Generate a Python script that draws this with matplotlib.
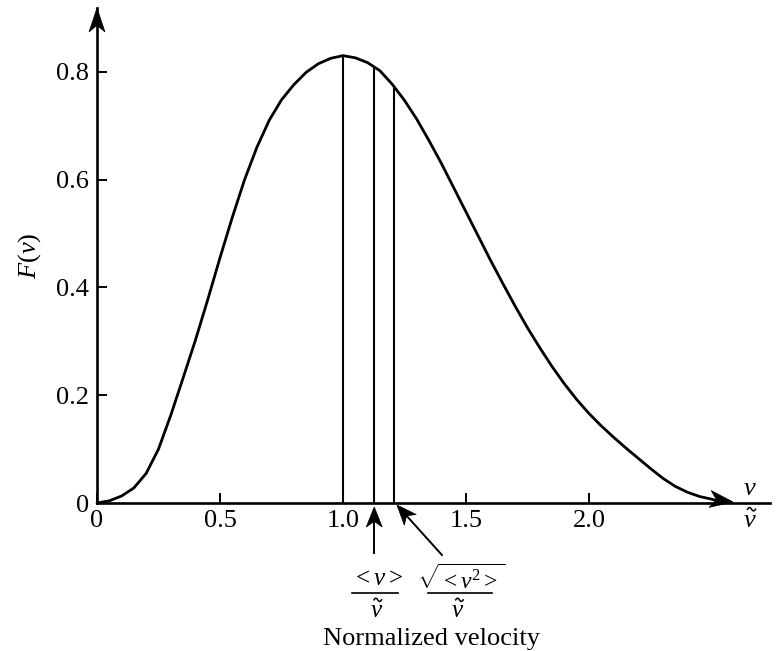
import numpy as np
import matplotlib
matplotlib.use("Agg")
import matplotlib.pyplot as plt
from matplotlib.patches import Polygon
from matplotlib.lines import Line2D
from matplotlib.transforms import IdentityTransform

# ---- data ----
v_norm = [0.0, 0.05, 0.10, 0.15, 0.20, 0.25, 0.30, 0.35, 0.40, 0.45,
          0.50, 0.55, 0.60, 0.65, 0.70, 0.75, 0.80, 0.85, 0.90, 0.95,
          1.00, 1.05, 1.10, 1.15, 1.20, 1.25, 1.30, 1.35, 1.40, 1.45,
          1.50, 1.55, 1.60, 1.65, 1.70, 1.75, 1.80, 1.85, 1.90, 1.95,
          2.00, 2.05, 2.10, 2.15, 2.20, 2.25, 2.30, 2.35, 2.40, 2.45,
          2.50]
F_v = [0.000, 0.004, 0.013, 0.028, 0.055, 0.100, 0.163, 0.232, 0.302, 0.377,
       0.455, 0.530, 0.600, 0.660, 0.710, 0.748, 0.776, 0.799, 0.815, 0.825,
       0.830, 0.826, 0.817, 0.802, 0.777, 0.747, 0.712, 0.672, 0.630, 0.585,
       0.540, 0.495, 0.450, 0.407, 0.365, 0.325, 0.288, 0.253, 0.221, 0.192,
       0.166, 0.143, 0.122, 0.102, 0.083, 0.064, 0.046, 0.031, 0.020, 0.012,
       0.007]
curve_tip = (2.585, 0.002)
marker_x = [1.0, 1.127, 1.207]   # most probable, mean, rms (normalized)

x_ticks = [0, 0.5, 1.0, 1.5, 2.0]
x_tick_labels = ["0", "0.5", "1.0", "1.5", "2.0"]
y_ticks = [0, 0.2, 0.4, 0.6, 0.8]
y_tick_labels = ["0", "0.2", "0.4", "0.6", "0.8"]

# ---- style ----
plt.rcParams["font.family"] = ["Liberation Serif", "DejaVu Serif"]
plt.rcParams["mathtext.fontset"] = "custom"
plt.rcParams["mathtext.rm"] = "Liberation Serif"
plt.rcParams["mathtext.it"] = "Liberation Serif:italic"
plt.rcParams["mathtext.bf"] = "Liberation Serif:bold"

W, H, DPI = 777, 651, 100
fig = plt.figure(figsize=(W / DPI, H / DPI), dpi=DPI)
fig.patch.set_facecolor("white")

x0, x_end, y0, y_top = 97, 770, 503, 8
ax = fig.add_axes([x0 / W, (H - y0) / H, (x_end - x0) / W, (y0 - y_top) / H])
ax.set_xlim(0, (x_end - x0) / 246.0)
ax.set_ylim(0, (y0 - y_top) / 539.0)

for s in ["top", "right"]:
    ax.spines[s].set_visible(False)
for s in ["left", "bottom"]:
    ax.spines[s].set_linewidth(1.9)
    ax.spines[s].set_color("black")

ax.set_xticks(x_ticks)
ax.set_xticklabels(x_tick_labels)
ax.set_yticks(y_ticks)
ax.set_yticklabels(y_tick_labels)
ax.tick_params(direction="in", length=7, width=1.4, labelsize=19, pad=6)
ax.tick_params(axis="x", pad=5)

ax.set_ylabel(r"$F(v)$", fontsize=19, labelpad=9)

# curve
ax.plot(v_norm + [curve_tip[0] - 0.06], F_v + [curve_tip[1] + 0.001],
        color="black", lw=2.0, solid_capstyle="round", solid_joinstyle="round",
        clip_on=False)

# vertical marker lines
tops = np.interp(marker_x, v_norm, F_v)
ax.vlines(marker_x, 0, tops, colors="black", lw=1.5)

fig.canvas.draw()


def disp(xd, yd):
    return ax.transData.transform((xd, yd))


def arrowhead(tip, angle_deg, L=22, Wd=16):
    a = np.deg2rad(angle_deg)
    d = np.array([np.cos(a), np.sin(a)])
    n = np.array([-d[1], d[0]])
    tip = np.asarray(tip, float)
    pts = [tip,
           tip - L * d + Wd / 2 * n,
           tip - 0.72 * L * d,
           tip - L * d - Wd / 2 * n]
    fig.patches.append(Polygon(pts, closed=True, facecolor="black",
                               edgecolor="black", lw=0.5,
                               transform=IdentityTransform(), figure=fig))


def seg(p, q, lw=1.4):
    fig.lines.append(Line2D([p[0], q[0]], [p[1], q[1]], color="black", lw=lw,
                            transform=IdentityTransform(), figure=fig))


def label(p, s, size=18, **kw):
    fig.text(p[0], p[1], s, fontsize=size, ha="center", va="center",
             transform=IdentityTransform(), **kw)


def vtilde(p, size=18):
    """italic v with a drawn tilde accent above it"""
    label(p, r"$v$", size)
    t = np.linspace(0, 1, 25)
    w = 0.42 * size
    cx, cy = p[0] + 1.5, p[1] + 0.62 * size
    xs = cx - w / 2 + w * t
    ys = cy + 0.09 * size * np.sin(2 * np.pi * t)
    fig.lines.append(Line2D(xs, ys, color="black", lw=1.1,
                            transform=IdentityTransform(), figure=fig))


# y-axis arrowhead
top = disp(0, ax.get_ylim()[1])
arrowhead(top, 90, L=24, Wd=16)

# curve-end arrowhead
tipd = disp(*curve_tip)
prev = disp(v_norm[-1], F_v[-1])
ang = np.degrees(np.arctan2(tipd[1] - prev[1], tipd[0] - prev[0]))
arrowhead(tipd, ang, L=23, Wd=17)

# v / v~ at end of x-axis
endx = disp(ax.get_xlim()[1], 0)
label((endx[0] - 20, endx[1] + 14), r"$v$", 19)
vtilde((endx[0] - 20, endx[1] - 18), 19)

# <v> annotation
b1 = disp(marker_x[1], 0)
seg((b1[0], b1[1] - 50), (b1[0], b1[1] - 12))
arrowhead((b1[0], b1[1] - 4), 90, L=20, Wd=16)
label((b1[0] + 3, b1[1] - 76), r"$<v>$", size=18)
seg((b1[0] - 22, b1[1] - 90), (b1[0] + 24, b1[1] - 90), lw=1.2)
vtilde((b1[0] + 2, b1[1] - 108), 18)

# sqrt(<v^2>) annotation
b2 = disp(marker_x[2], 0)
tip2 = np.array([b2[0] + 3, b2[1] - 2])
tail2 = np.array([b2[0] + 48, b2[1] - 52])
ang2 = np.degrees(np.arctan2(tip2[1] - tail2[1], tip2[0] - tail2[0]))
dvec = (tip2 - tail2) / np.linalg.norm(tip2 - tail2)
seg(tail2, tip2 - 10 * dvec)
arrowhead(tip2, ang2, L=20, Wd=16)
label((b2[0] + 67, b2[1] - 76), r"$\sqrt{<v^2>}$", size=17)
seg((b2[0] + 34, b2[1] - 90), (b2[0] + 98, b2[1] - 90), lw=1.2)
vtilde((b2[0] + 64, b2[1] - 108), 18)

# axis title below
label((b1[0] + 57, b1[1] - 136), "Normalized velocity", size=19)

fig.savefig("out.png", dpi=DPI, facecolor="white")
